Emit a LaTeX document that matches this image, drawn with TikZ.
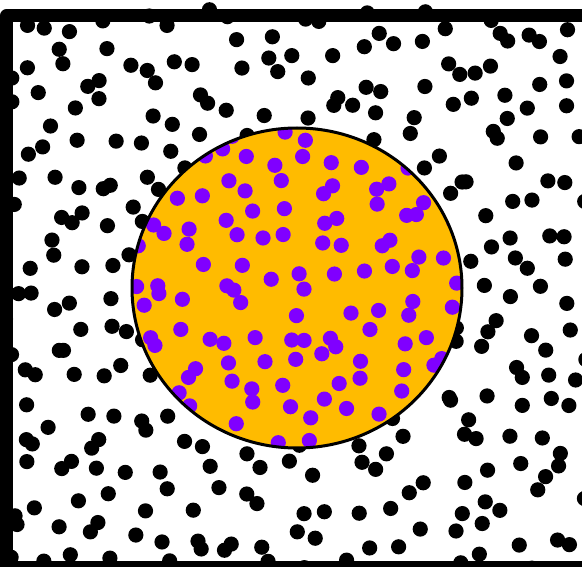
\documentclass[tikz,border=0pt]{standalone}
\usepackage{xcolor}
\usepackage{tikz}
\definecolor{ink}{HTML}{000000}
\definecolor{amber}{HTML}{FFBB00}
\definecolor{grape}{HTML}{8000FF}

\begin{document}
\begin{tikzpicture}[
  x=1pt, y=-1pt,
  blackdot/.style={fill=ink},
  grapedot/.style={fill=grape},
  disc/.style={fill=amber},
  ring/.style={draw=ink, line width=3pt},
  frame/.style={draw=ink, line width=12.5pt, line join=round}
]
  \useasboundingbox (0,0) rectangle (582,567);
  \clip (0,0) rectangle (582,567);
  \pgfmathsetseed{4217}
  % black dots over the whole field, one per cell with jitter
  \foreach \i in {0,...,18}{
    \foreach \j in {0,...,18}{
      \pgfmathsetmacro{\px}{\i*31+rnd*31}
      \pgfmathsetmacro{\py}{\j*30+rnd*30+8}
      \fill[blackdot] (\px,\py) circle[radius=7.6pt];
    }
  }
  % the disc and its dots
  \fill[disc] (297,288) ellipse[x radius=165, y radius=160];
  \begin{scope}
    \clip (297,288) ellipse[x radius=165, y radius=160];
    \foreach \i in {0,...,11}{
      \foreach \j in {0,...,11}{
        \pgfmathsetmacro{\px}{\i*28.8+rnd*28.8+124}
        \pgfmathsetmacro{\py}{\j*28+rnd*28+120}
        \fill[grapedot] (\px,\py) circle[radius=7.6pt];
      }
    }
  \end{scope}
  \draw[ring] (297,288) ellipse[x radius=165, y radius=160];
  % frame, cut off on the right
  \draw[frame] (6.5,15.5) rectangle (600,567);
\end{tikzpicture}
\end{document}
